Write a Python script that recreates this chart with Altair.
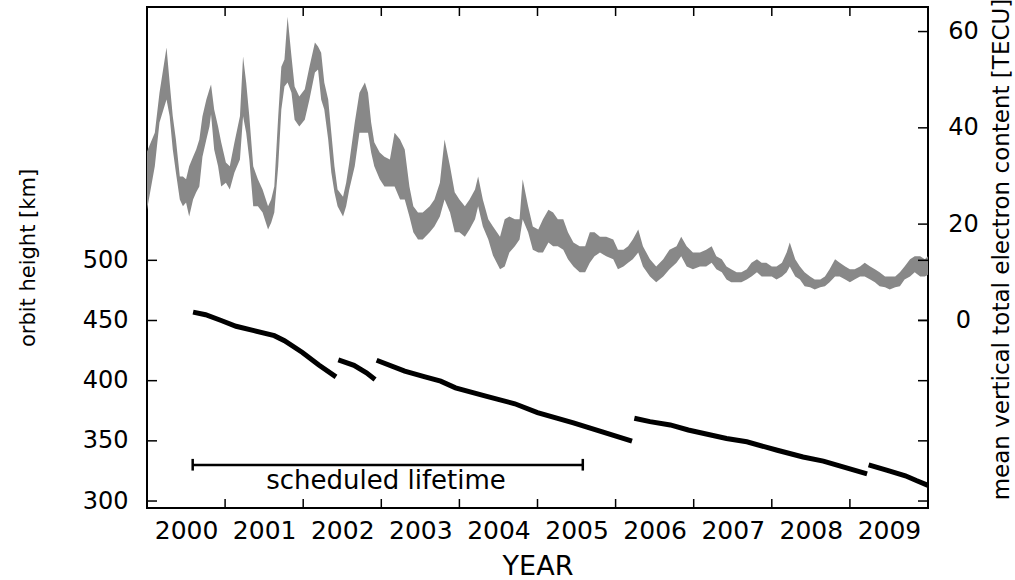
import altair as alt
import pandas as pd

# ---------------- data ----------------
tec_year = [2000.00, 2000.10, 2000.16, 2000.25, 2000.29, 2000.33, 2000.37, 2000.42, 2000.46, 2000.50,
            2000.54, 2000.59, 2000.63, 2000.67, 2000.71, 2000.76, 2000.80, 2000.82, 2000.86, 2000.91,
            2000.95, 2001.01, 2001.06, 2001.12, 2001.19, 2001.23, 2001.27, 2001.31, 2001.36, 2001.42,
            2001.48, 2001.55, 2001.59, 2001.63, 2001.68, 2001.72, 2001.76, 2001.80, 2001.85, 2001.89,
            2001.95, 2002.02, 2002.08, 2002.15, 2002.19, 2002.23, 2002.27, 2002.32, 2002.36, 2002.40,
            2002.44, 2002.51, 2002.55, 2002.59, 2002.66, 2002.72, 2002.79, 2002.83, 2002.87, 2002.91,
            2002.98, 2003.04, 2003.11, 2003.17, 2003.24, 2003.30, 2003.36, 2003.41, 2003.47, 2003.53,
            2003.62, 2003.68, 2003.75, 2003.81, 2003.88, 2003.94, 2004.00, 2004.07, 2004.13, 2004.20,
            2004.24, 2004.30, 2004.37, 2004.43, 2004.52, 2004.58, 2004.64, 2004.71, 2004.77, 2004.81,
            2004.88, 2004.94, 2005.01, 2005.07, 2005.14, 2005.20, 2005.26, 2005.33, 2005.39, 2005.46,
            2005.54, 2005.61, 2005.67, 2005.73, 2005.80, 2005.88, 2005.97, 2006.03, 2006.10, 2006.16,
            2006.22, 2006.29, 2006.35, 2006.44, 2006.52, 2006.61, 2006.69, 2006.78, 2006.84, 2006.91,
            2006.99, 2007.08, 2007.16, 2007.23, 2007.29, 2007.36, 2007.42, 2007.48, 2007.55, 2007.61,
            2007.68, 2007.74, 2007.81, 2007.87, 2007.93, 2008.00, 2008.06, 2008.13, 2008.19, 2008.23,
            2008.30, 2008.36, 2008.42, 2008.49, 2008.55, 2008.62, 2008.68, 2008.74, 2008.81, 2008.87,
            2008.94, 2009.00, 2009.06, 2009.13, 2009.19, 2009.26, 2009.32, 2009.38, 2009.45, 2009.51,
            2009.58, 2009.64, 2009.70, 2009.77, 2009.83, 2009.90, 2009.96, 2010.00]
tec_hi = [35.1, 39.0, 47.3, 56.7, 49.4, 42.4, 37.6, 29.9, 29.9, 29.3,
          32.0, 34.0, 35.5, 37.6, 42.4, 45.9, 48.0, 49.0, 43.8, 40.3,
          37.0, 32.8, 32.0, 37.0, 42.4, 54.8, 49.4, 42.4, 32.0, 29.3,
          27.2, 23.7, 25.1, 27.8, 42.4, 52.7, 54.2, 63.1, 54.8, 48.6,
          46.5, 48.0, 52.7, 57.7, 56.9, 55.6, 49.4, 45.9, 39.0, 32.0,
          27.2, 25.7, 28.6, 32.8, 41.1, 47.3, 49.4, 47.3, 41.1, 37.0,
          34.9, 34.0, 33.4, 39.0, 37.6, 35.5, 27.8, 23.7, 22.4, 22.4,
          23.7, 25.1, 28.6, 37.6, 32.0, 26.6, 25.1, 23.7, 25.1, 27.2,
          29.9, 25.1, 21.0, 19.5, 17.4, 21.0, 21.6, 21.0, 21.0, 29.3,
          23.7, 19.5, 18.9, 21.0, 23.0, 22.4, 21.0, 21.0, 18.3, 16.2,
          15.4, 15.4, 18.3, 18.3, 17.4, 17.4, 16.8, 14.7, 14.7, 15.4,
          16.8, 18.9, 15.4, 12.7, 11.2, 12.7, 14.7, 15.4, 17.4, 15.4,
          14.1, 14.1, 14.7, 15.4, 13.3, 12.7, 11.2, 10.6, 10.0, 10.0,
          10.6, 12.0, 12.7, 12.0, 12.0, 11.2, 11.2, 12.0, 14.1, 16.2,
          12.7, 11.2, 10.0, 9.1, 8.5, 8.5, 9.1, 10.6, 12.7, 12.0,
          11.2, 10.6, 10.6, 11.2, 12.0, 11.2, 10.6, 10.0, 9.1, 9.1,
          9.1, 10.0, 11.2, 12.7, 13.3, 13.3, 12.7, 13.3]
tec_lo = [23.0, 32.0, 41.1, 45.9, 42.4, 35.5, 30.7, 25.1, 23.7, 24.5,
          21.6, 25.1, 26.6, 27.8, 34.0, 37.6, 40.3, 42.8, 35.5, 32.0,
          27.8, 28.6, 27.2, 30.7, 33.4, 42.4, 39.0, 33.4, 23.7, 23.7,
          22.4, 18.9, 20.3, 22.4, 32.0, 43.8, 48.6, 49.4, 47.3, 41.7,
          40.3, 41.7, 45.9, 51.5, 52.1, 45.9, 43.8, 37.6, 30.7, 26.6,
          23.7, 21.6, 23.7, 27.2, 32.0, 39.0, 39.0, 39.0, 34.9, 32.0,
          29.3, 27.8, 27.8, 27.8, 25.1, 25.1, 21.6, 18.3, 16.8, 16.8,
          18.3, 19.5, 21.6, 25.1, 22.4, 18.3, 18.3, 17.4, 18.9, 21.0,
          23.7, 19.5, 16.8, 13.5, 10.6, 11.2, 14.1, 15.4, 16.8, 21.0,
          18.3, 14.7, 14.1, 14.1, 16.2, 15.4, 15.4, 14.7, 12.7, 11.2,
          10.0, 10.0, 12.0, 13.3, 14.1, 13.3, 12.7, 10.6, 11.2, 12.0,
          12.7, 14.1, 11.2, 9.1, 7.9, 9.1, 10.6, 12.0, 13.3, 11.2,
          10.6, 11.2, 11.2, 12.0, 10.6, 10.0, 8.5, 7.9, 7.9, 7.9,
          8.5, 9.1, 10.0, 9.1, 9.1, 9.1, 8.5, 9.1, 10.0, 11.2,
          9.1, 8.5, 7.1, 6.9, 6.4, 6.9, 7.1, 7.9, 9.1, 9.1,
          8.5, 7.9, 8.5, 9.1, 9.1, 8.5, 7.9, 7.1, 6.9, 6.4,
          6.9, 7.1, 8.5, 9.1, 10.0, 9.1, 9.1, 9.5]

orbit_year = [2000.59, 2000.75, 2000.95, 2001.14, 2001.37, 2001.63, 2001.76, 2001.99, 2002.20, 2002.42,
              2002.45, 2002.65, 2002.81, 2002.92,
              2002.94, 2003.30, 2003.56, 2003.76, 2003.95, 2004.35, 2004.71, 2005.00, 2005.46, 2005.82, 2006.21,
              2006.24, 2006.44, 2006.70, 2006.93, 2007.42, 2007.68, 2008.07, 2008.40, 2008.66, 2009.22,
              2009.24, 2009.48, 2009.71, 2009.85, 2010.00]
orbit_km = [457.0, 454.8, 450.0, 445.2, 441.6, 437.4, 433.2, 423.4, 413.0, 403.2,
            417.2, 412.7, 406.6, 401.0,
            417.0, 408.0, 403.2, 399.6, 394.0, 387.0, 380.8, 373.5, 365.0, 357.6, 349.7,
            368.8, 366.0, 363.2, 359.0, 352.0, 349.2, 342.2, 336.6, 333.2, 322.5,
            330.0, 325.4, 321.0, 317.0, 313.0]
orbit_seg = [1] * 10 + [2] * 4 + [3] * 11 + [4] * 10 + [5] * 5

year_ticks = list(range(2001, 2010))
year_label_pos = [y + 0.5 for y in range(2000, 2010)]
km_ticks = [300, 350, 400, 450, 500]
tec_ticks = [0, 20, 40, 60]

life_start, life_end, life_km = 2000.585, 2005.58, 330.0
life_cap_lo, life_cap_hi = 325.3, 335.0
life_label = "scheduled lifetime"
life_label_year, life_label_km = 2003.06, 310.0

# ---------------- chart ----------------
FONT = "DejaVu Sans"
W, H = 781, 501
XDOM = [2000, 2010]
KMDOM = [294.2, 710.5]
TECDOM = [-38.97, 65.1]

xscale = alt.Scale(domain=XDOM, nice=False, zero=False)
kmscale = alt.Scale(domain=KMDOM, nice=False, zero=False)
tecscale = alt.Scale(domain=TECDOM, nice=False, zero=False)

xaxis = alt.Axis(values=year_label_pos, ticks=False, domain=False, grid=False,
                 labelExpr="'' + floor(datum.value)", labelFont=FONT, labelFontSize=25,
                 labelColor="black", labelPadding=10, labelFlush=False, labelOverlap=False,
                 title="YEAR", titleFont=FONT, titleFontSize=27, titleFontWeight="normal",
                 titleColor="black", titleY=58, titleBaseline="middle")

kmaxis = alt.Axis(values=km_ticks, ticks=False, domain=False, grid=False, orient="left",
                  labelFont=FONT, labelFontSize=24, labelColor="black", labelPadding=19,
                  title="orbit height [km]", titleFont=FONT, titleFontSize=21,
                  titleFontWeight="normal", titleColor="black", titleAngle=270,
                  titleX=-119, titleBaseline="middle")

tecaxis = alt.Axis(values=tec_ticks, ticks=False, domain=False, grid=False, orient="right",
                   labelFont=FONT, labelFontSize=24, labelColor="black", labelPadding=35,
                   labelAlign="center",
                   title="mean vertical total electron content [TECU]", titleFont=FONT,
                   titleFontSize=23, titleFontWeight="normal", titleColor="black",
                   titleAngle=270, titleX=73, titleY=242, titleBaseline="middle")

tec_df = pd.DataFrame({"year": tec_year, "hi": tec_hi, "lo": tec_lo})
orbit_df = pd.DataFrame({"year": orbit_year, "km": orbit_km, "seg": orbit_seg})
yt_df = pd.DataFrame({"year": year_ticks})
km_df = pd.DataFrame({"km": km_ticks})
tt_df = pd.DataFrame({"tec": tec_ticks})
life_df = pd.DataFrame({"year": [life_start], "x1": [life_end], "km": [life_km]})
cap_df = pd.DataFrame({"year": [life_start, life_end], "km": [life_cap_lo] * 2, "hi": [life_cap_hi] * 2})
lab_df = pd.DataFrame({"year": [life_label_year], "km": [life_label_km], "t": [life_label]})


def X(field="year:Q"):
    return alt.X(field, scale=xscale, axis=xaxis)


def YKM(field="km:Q"):
    return alt.Y(field, scale=kmscale, axis=kmaxis)


def YTEC(field):
    return alt.Y(field, scale=tecscale, axis=tecaxis)


# TEC group (right axis)
tec_area = alt.Chart(tec_df).mark_area(color="#888888", opacity=1, clip=True).encode(
    x=X(), y=YTEC("hi:Q"), y2="lo:Q",
)
tec_tick_marks = alt.Chart(tt_df).mark_rule(color="black", strokeWidth=1.5).encode(
    y=YTEC("tec:Q"), x=alt.value(W - 10), x2=alt.value(W),
)
tec_group = alt.layer(tec_area, tec_tick_marks)

# km group (left axis)
orbit = alt.Chart(orbit_df).mark_line(color="black", strokeWidth=5, strokeCap="butt").encode(
    x=X(), y=YKM(), detail="seg:N", order="year:Q",
)
life_bar = alt.Chart(life_df).mark_rule(color="black", strokeWidth=2.5).encode(
    x=X(), x2="x1:Q", y=YKM(),
)
life_caps = alt.Chart(cap_df).mark_rule(color="black", strokeWidth=2.5).encode(
    x=X(), y=YKM(), y2="hi:Q",
)
life_text = alt.Chart(lab_df).mark_text(font=FONT, fontSize=26, color="black",
                                        align="center", baseline="alphabetic").encode(
    x=X(), y=YKM(), text="t:N",
)
km_left_ticks = alt.Chart(km_df).mark_rule(color="black", strokeWidth=1.5).encode(
    y=YKM(), x=alt.value(0), x2=alt.value(10),
)
km_right_ticks = alt.Chart(km_df).mark_rule(color="black", strokeWidth=1.5).encode(
    y=YKM(), x=alt.value(W - 10), x2=alt.value(W),
)
bottom_ticks = alt.Chart(yt_df).mark_rule(color="black", strokeWidth=1.5).encode(
    x=X(), y=alt.value(H - 9), y2=alt.value(H),
)
top_ticks = alt.Chart(yt_df).mark_rule(color="black", strokeWidth=1.5).encode(
    x=X(), y=alt.value(0), y2=alt.value(9),
)
km_group = alt.layer(orbit, life_bar, life_caps, life_text, km_left_ticks, km_right_ticks,
                     bottom_ticks, top_ticks)

chart = alt.layer(tec_group, km_group).resolve_scale(y="independent").properties(
    width=W, height=H,
    padding={"left": 147, "top": 7, "right": 87, "bottom": 72},
    autosize=alt.AutoSizeParams(type="none"),
    background="white",
).configure_view(stroke="black", strokeWidth=2)

chart.save("out.html", embed_options={"renderer": "svg", "actions": False})
